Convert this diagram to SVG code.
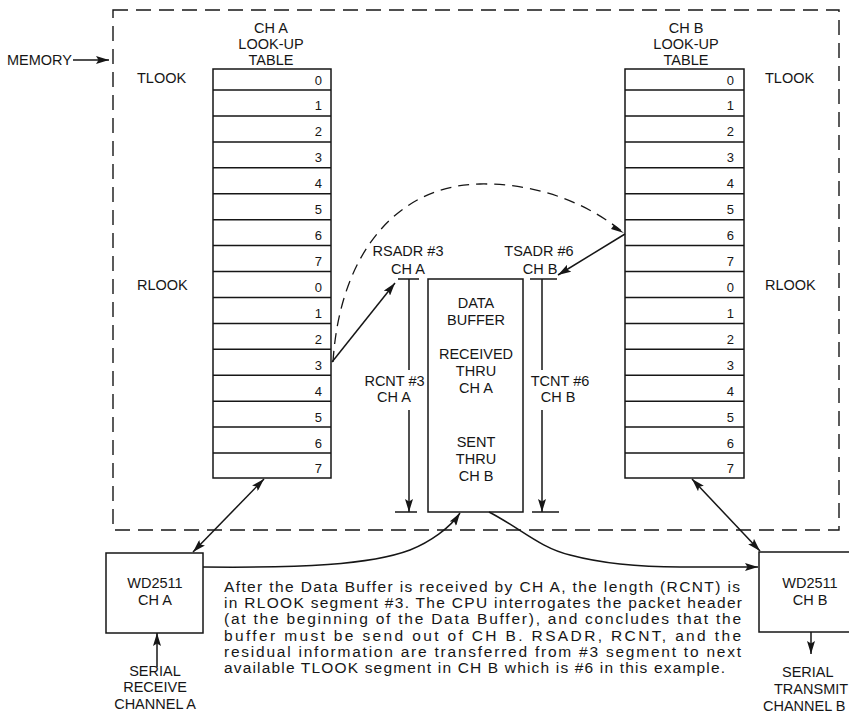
<svg xmlns="http://www.w3.org/2000/svg" width="849" height="715" viewBox="0 0 849 715">
<style>
text{font-family:"Liberation Sans",Arial,Helvetica,sans-serif;fill:#161616}
.lbl{font-size:14.5px}
.hd{font-size:14.5px;text-anchor:middle}
.dg{font-size:13px;text-anchor:end}
.c{text-anchor:middle}
.ln{fill:none;stroke:#161616;stroke-width:1.5}
.box{fill:none;stroke:#161616;stroke-width:1.5}
.dash{fill:none;stroke:#161616;stroke-width:1.4;stroke-dasharray:15 8}
.dcurve{fill:none;stroke:#161616;stroke-width:1.3;stroke-dasharray:11 7}
.para{font-size:15.5px}
</style>
<defs>
<marker id="ah" viewBox="0 0 13 8" refX="13" refY="4" markerWidth="13" markerHeight="8" markerUnits="userSpaceOnUse" orient="auto-start-reverse">
<path d="M0,0 L13,4 L0,8 L2.5,4 z" fill="#161616"/>
</marker>
</defs>
<rect width="849" height="715" fill="#ffffff"/>

<g id="memory">
<rect class="dash" x="113" y="10" width="726" height="520"/>
<text class="lbl" x="7" y="65">MEMORY</text>
<line class="ln" x1="73" y1="60" x2="109" y2="60" marker-end="url(#ah)"/>
</g>

<g id="table-a">
<text class="hd" x="271" y="33">CH A</text>
<text class="hd" x="271" y="49">LOOK-UP</text>
<text class="hd" x="271" y="65">TABLE</text>
<text class="lbl" x="137" y="82.5">TLOOK</text>
<text class="lbl" x="137" y="289.5">RLOOK</text>
<rect class="box" x="213" y="69" width="118" height="409"/>
<path class="ln" d="M213,90H331M213,115.9H331M213,141.9H331M213,167.8H331M213,193.7H331M213,219.7H331M213,245.6H331M213,271.5H331M213,297.4H331M213,323.4H331M213,349.3H331M213,375.2H331M213,401.2H331M213,427.1H331M213,453H331"/>
<text class="dg" x="322" y="84.5">0</text>
<text class="dg" x="322" y="110.4">1</text>
<text class="dg" x="322" y="136.4">2</text>
<text class="dg" x="322" y="162.3">3</text>
<text class="dg" x="322" y="188.2">4</text>
<text class="dg" x="322" y="214.2">5</text>
<text class="dg" x="322" y="240.1">6</text>
<text class="dg" x="322" y="266">7</text>
<text class="dg" x="322" y="292">0</text>
<text class="dg" x="322" y="317.9">1</text>
<text class="dg" x="322" y="343.8">2</text>
<text class="dg" x="322" y="369.7">3</text>
<text class="dg" x="322" y="395.7">4</text>
<text class="dg" x="322" y="421.6">5</text>
<text class="dg" x="322" y="447.5">6</text>
<text class="dg" x="322" y="472.5">7</text>
</g>

<g id="table-b">
<text class="hd" x="686" y="33">CH B</text>
<text class="hd" x="686" y="49">LOOK-UP</text>
<text class="hd" x="686" y="65">TABLE</text>
<text class="lbl" x="765" y="82.5">TLOOK</text>
<text class="lbl" x="765" y="289.5">RLOOK</text>
<rect class="box" x="625" y="69" width="119" height="409"/>
<path class="ln" d="M625,90H744M625,115.9H744M625,141.9H744M625,167.8H744M625,193.7H744M625,219.7H744M625,245.6H744M625,271.5H744M625,297.4H744M625,323.4H744M625,349.3H744M625,375.2H744M625,401.2H744M625,427.1H744M625,453H744"/>
<text class="dg" x="734" y="84.5">0</text>
<text class="dg" x="734" y="110.4">1</text>
<text class="dg" x="734" y="136.4">2</text>
<text class="dg" x="734" y="162.3">3</text>
<text class="dg" x="734" y="188.2">4</text>
<text class="dg" x="734" y="214.2">5</text>
<text class="dg" x="734" y="240.1">6</text>
<text class="dg" x="734" y="266">7</text>
<text class="dg" x="734" y="292">0</text>
<text class="dg" x="734" y="317.9">1</text>
<text class="dg" x="734" y="343.8">2</text>
<text class="dg" x="734" y="369.7">3</text>
<text class="dg" x="734" y="395.7">4</text>
<text class="dg" x="734" y="421.6">5</text>
<text class="dg" x="734" y="447.5">6</text>
<text class="dg" x="734" y="472.5">7</text>
</g>

<g id="data-buffer">
<rect class="box" x="428" y="279" width="95" height="233"/>
<text class="lbl c" x="476" y="308">DATA</text>
<text class="lbl c" x="476" y="325">BUFFER</text>
<text class="lbl c" x="476" y="359">RECEIVED</text>
<text class="lbl c" x="476" y="376">THRU</text>
<text class="lbl c" x="476" y="393">CH A</text>
<text class="lbl c" x="476" y="447">SENT</text>
<text class="lbl c" x="476" y="464">THRU</text>
<text class="lbl c" x="476" y="481">CH B</text>
</g>

<g id="rsadr">
<text class="lbl c" x="408" y="256">RSADR #3</text>
<text class="lbl c" x="408" y="274">CH A</text>
</g>
<g id="tsadr">
<text class="lbl c" x="539" y="256">TSADR #6</text>
<text class="lbl c" x="540" y="274">CH B</text>
</g>
<g id="rcnt">
<text class="lbl c" x="394.5" y="386">RCNT #3</text>
<text class="lbl c" x="394" y="402">CH A</text>
</g>
<g id="tcnt">
<text class="lbl c" x="560" y="386">TCNT #6</text>
<text class="lbl c" x="558" y="402">CH B</text>
</g>

<g id="wd2511-a">
<rect class="box" x="106" y="553" width="97" height="80"/>
<text class="lbl c" x="155" y="588">WD2511</text>
<text class="lbl c" x="155" y="605">CH A</text>
</g>
<g id="serial-receive">
<text class="lbl c" x="155" y="676">SERIAL</text>
<text class="lbl c" x="155" y="692">RECEIVE</text>
<text class="lbl c" x="155" y="709">CHANNEL A</text>
</g>

<g id="wd2511-b">
<rect class="box" x="759" y="552" width="110" height="80"/>
<text class="lbl c" x="810" y="588">WD2511</text>
<text class="lbl c" x="810" y="605">CH B</text>
</g>
<g id="serial-transmit">
<text class="lbl" x="782" y="677">SERIAL</text>
<text class="lbl" x="774" y="694">TRANSMIT</text>
<text class="lbl" x="763" y="711">CHANNEL B</text>
</g>

<g id="note">
<text class="para" x="224" y="592" textLength="516" lengthAdjust="spacing">After the Data Buffer is received by CH A, the length (RCNT) is</text>
<text class="para" x="224" y="608.2" textLength="518" lengthAdjust="spacing">in RLOOK segment #3. The CPU interrogates the packet header</text>
<text class="para" x="224" y="624.4" textLength="517" lengthAdjust="spacing">(at the beginning of the Data Buffer), and concludes that the</text>
<text class="para" x="224" y="640.6" textLength="517" lengthAdjust="spacing">buffer must be send out of CH B. RSADR, RCNT, and the</text>
<text class="para" x="224" y="656.8" textLength="517" lengthAdjust="spacing">residual information are transferred from #3 segment to next</text>
<text class="para" x="224" y="673" textLength="501" lengthAdjust="spacing">available TLOOK segment in CH B which is #6 in this example.</text>
</g>

<g id="connectors">
<line class="ln" x1="332" y1="362" x2="395" y2="283" marker-end="url(#ah)"/>
<path class="dcurve" d="M333,362 C340,250 400,185 480,184 C540,183 590,205 624,233"/>
<path d="M624,233 L611,229 L614,225 z" fill="#161616"/>
<line class="ln" x1="625" y1="234" x2="558" y2="275" marker-end="url(#ah)"/>
<line class="ln" x1="398" y1="279" x2="419" y2="279"/>
<line class="ln" x1="409" y1="279" x2="409" y2="370"/>
<line class="ln" x1="409" y1="410" x2="409" y2="512" marker-end="url(#ah)"/>
<line class="ln" x1="395" y1="512" x2="417" y2="512"/>
<line class="ln" x1="530" y1="279" x2="557" y2="279"/>
<line class="ln" x1="542" y1="279" x2="542" y2="370"/>
<line class="ln" x1="542" y1="410" x2="542" y2="512" marker-end="url(#ah)"/>
<line class="ln" x1="532" y1="512" x2="559" y2="512"/>
<line class="ln" x1="264" y1="479" x2="193" y2="552" marker-start="url(#ah)" marker-end="url(#ah)"/>
<line class="ln" x1="692" y1="479" x2="760" y2="551" marker-start="url(#ah)" marker-end="url(#ah)"/>
<path class="ln" d="M203,567 C300,568 370,565 410,550 C430,542 450,528 460,513" marker-end="url(#ah)"/>
<path class="ln" d="M489,512 C520,528 540,548 570,555 C600,563 640,567 680,567 L758,567" marker-end="url(#ah)"/>
<line class="ln" x1="157" y1="667" x2="157" y2="633" marker-end="url(#ah)"/>
<line class="ln" x1="811" y1="632" x2="811" y2="654" marker-end="url(#ah)"/>
</g>
</svg>
